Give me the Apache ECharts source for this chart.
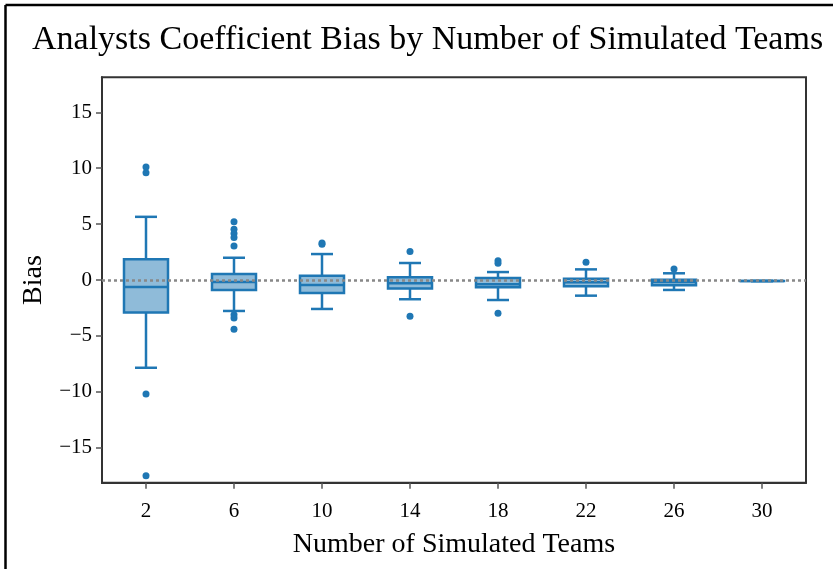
<!DOCTYPE html>
<html>
<head>
<meta charset="utf-8">
<script src="https://cdn.jsdelivr.net/npm/echarts@6/dist/echarts.min.js"></script>
<style>html,body{margin:0;padding:0;background:#fff}#c{width:833px;height:569px}</style>
</head>
<body>
<div id="c"></div>
<script>
const categories = ['2', '6', '10', '14', '18', '22', '26', '30'];
const whiskerLow  = [-7.85, -2.77, -2.59, -1.72, -1.79, -1.40, -0.89, -0.10];
const q1          = [-2.90, -0.90, -1.16, -0.77, -0.65, -0.57, -0.48, -0.10];
const median      = [-0.63, -0.18, -0.45, -0.30, -0.39, -0.21, -0.18, -0.09];
const q3          = [ 1.85,  0.54,  0.39,  0.24,  0.18,  0.12,  0.02, -0.08];
const whiskerHigh = [ 5.65,  1.99,  2.32,  1.52,  0.71,  0.95,  0.60, -0.08];
const outliers2  = [10.1, 9.6, -10.2, -17.5];
const outliers6  = [5.2, 4.55, 4.17, 3.8, 3.04, -3.1, -3.4, -4.4];
const outliers10 = [3.3, 3.2];
const outliers14 = [2.56, -3.24];
const outliers18 = [1.73, 1.49, -2.98];
const outliers22 = [1.58];
const outliers26 = [0.98];
const outliers30 = [];
const yTicks = [-15, -10, -5, 0, 5, 10, 15];

const outlierLists = [outliers2, outliers6, outliers10, outliers14, outliers18, outliers22, outliers26, outliers30];
const boxData = categories.map((c, i) => [i, whiskerLow[i], q1[i], median[i], q3[i], whiskerHigh[i]]);
const outlierData = [];
outlierLists.forEach((arr, i) => arr.forEach(v => outlierData.push([i, v])));

const FONT = '"Liberation Serif", "DejaVu Serif", serif';
const BLUE = '#1f77b4';
const FILL = '#8fbbd9';

const chart = echarts.init(document.getElementById('c'));
chart.setOption({
  animation: false,
  backgroundColor: '#ffffff',
  title: {
    text: 'Analysts Coefficient Bias by Number of Simulated Teams',
    left: 27, top: 18,
    textStyle: { fontFamily: FONT, fontSize: 34, fontWeight: 'normal', color: '#000' }
  },
  graphic: [
    { type: 'line', shape: { x1: 5.5, y1: 5, x2: 833, y2: 5 }, style: { stroke: '#000', lineWidth: 2.5 } },
    { type: 'line', shape: { x1: 5.5, y1: 5, x2: 5.5, y2: 569 }, style: { stroke: '#000', lineWidth: 2.5 } }
  ],
  grid: { left: 102, right: 27, top: 77.3, bottom: 86.3, show: true, borderColor: '#333', borderWidth: 2, backgroundColor: 'transparent' },
  xAxis: {
    type: 'category', data: categories, boundaryGap: true,
    name: 'Number of Simulated Teams', nameLocation: 'middle', nameGap: 48,
    nameTextStyle: { fontFamily: FONT, fontSize: 28, color: '#000' },
    axisLine: { show: true, onZero: false, lineStyle: { color: '#333', width: 2 } },
    axisTick: { show: true, alignWithLabel: true, length: 6, lineStyle: { color: '#555', width: 1.5 } },
    axisLabel: { fontFamily: FONT, fontSize: 21, color: '#000', margin: 18 },
    splitLine: { show: false }
  },
  yAxis: {
    type: 'value', min: -18.13, max: 18.13,
    name: 'Bias', nameLocation: 'middle', nameGap: 54,
    nameTextStyle: { fontFamily: FONT, fontSize: 28, color: '#000' },
    axisLine: { show: true, onZero: false, lineStyle: { color: '#333', width: 2 } },
    axisTick: { show: true, length: 6, customValues: yTicks, lineStyle: { color: '#555', width: 1.5 } },
    axisLabel: { fontFamily: FONT, fontSize: 21, color: '#000', margin: 10, customValues: yTicks,
      formatter: v => String(v).replace('-', '\u2212') },
    splitLine: { show: false }
  },
  series: [
    {
      type: 'custom',
      data: boxData,
      encode: { x: 0, y: [1, 2, 3, 4, 5] },
      z: 2,
      renderItem: function (params, api) {
        const x = api.value(0);
        const band = api.size([1, 0])[0];
        const hw = band * 0.25, cw = band * 0.125;
        const pLo = api.coord([x, api.value(1)]);
        const pQ1 = api.coord([x, api.value(2)]);
        const pMd = api.coord([x, api.value(3)]);
        const pQ3 = api.coord([x, api.value(4)]);
        const pHi = api.coord([x, api.value(5)]);
        const cx = pMd[0];
        const st = { stroke: BLUE, lineWidth: 2.5, fill: null };
        return {
          type: 'group',
          children: [
            { type: 'line', shape: { x1: cx, y1: pQ3[1], x2: cx, y2: pHi[1] }, style: st },
            { type: 'line', shape: { x1: cx, y1: pQ1[1], x2: cx, y2: pLo[1] }, style: st },
            { type: 'line', shape: { x1: cx - cw, y1: pHi[1], x2: cx + cw, y2: pHi[1] }, style: st },
            { type: 'line', shape: { x1: cx - cw, y1: pLo[1], x2: cx + cw, y2: pLo[1] }, style: st },
            { type: 'rect', shape: { x: cx - hw, y: pQ3[1], width: hw * 2, height: pQ1[1] - pQ3[1] },
              style: { fill: FILL, stroke: BLUE, lineWidth: 2.5 } },
            { type: 'line', shape: { x1: cx - hw, y1: pMd[1], x2: cx + hw, y2: pMd[1] }, style: st }
          ]
        };
      }
    },
    {
      type: 'scatter',
      data: outlierData,
      symbol: 'circle', symbolSize: 7,
      itemStyle: { color: BLUE, opacity: 1 },
      z: 3,
      markLine: {
        silent: true, symbol: ['none', 'none'], label: { show: false },
        lineStyle: { color: '#888888', type: [3, 3], width: 2.5, opacity: 1 },
        emphasis: { disabled: true },
        data: [{ yAxis: 0 }],
        z: 4
      }
    }
  ]
});
</script>
</body>
</html>
